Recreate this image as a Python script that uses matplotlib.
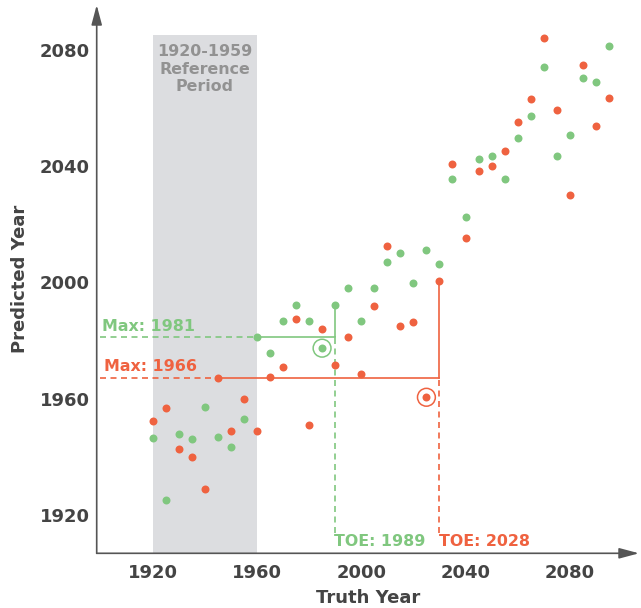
import matplotlib
matplotlib.use("Agg")
import matplotlib.pyplot as plt
import numpy as np

# ---------------- data ----------------
truth_years = list(range(1920, 2100, 5))
green_pred = [1946.5, 1925.1, 1947.9, 1946.2, 1957.3, 1946.8, 1943.5, 1952.9, 1981.1,
              1975.6, 1986.9, 1992.4, 1986.9, 1977.4, 1992.4, 1998.0, 1986.9, 1998.0,
              2007.0, 2010.3, 1999.7, 2011.3, 2006.4, 2035.7, 2022.4, 2042.5, 2043.7,
              2035.7, 2049.6, 2057.4, 2074.1, 2043.6, 2050.8, 2070.3, 2069.1, 2081.4]
red_pred = [1952.2, 1956.7, 1942.8, 1940.1, 1928.9, 1967.3, 1948.9, 1960.0, 1948.9,
            1967.6, 1971.0, 1987.3, 1951.1, 1984.0, 1971.7, 1981.1, 1968.5, 1991.8,
            2012.5, 1985.0, 1986.3, 1960.5, 2000.5, 2040.8, 2015.2, 2038.5, 2040.2,
            2045.3, 2055.2, 2063.1, 2084.1, 2059.2, 2030.2, 2074.7, 2054.0, 2063.6]

ref_period = (1920, 1960)
ref_label = "1920-1959\nReference\nPeriod"
green_max_year, green_max_val, green_toe_year = 1960, 1981.1, 1990
red_max_year, red_max_val, red_toe_year = 1945, 1967.3, 2030
green_ring_year = 1985
red_ring_year = 2025
green_max_label = "Max: 1981"
red_max_label = "Max: 1966"
green_toe_label = "TOE: 1989"
red_toe_label = "TOE: 2028"
xticks = [1920, 1960, 2000, 2040, 2080]
yticks = [1920, 1960, 2000, 2040, 2080]

GREEN = "#80c77f"
RED = "#ef6240"
AXC = "#555555"
TXT = "#444444"

# ---------------- figure ----------------
fig = plt.figure(figsize=(6.41, 6.08), dpi=100)
ax = fig.add_axes([96.7 / 641, (608 - 553.3) / 608, (639 - 96.7) / 641, (553.3 - 5) / 608])
x0, x1 = 1898.6, 2106.5
y0, y1 = 1906.8, 2095.5
ax.set_xlim(x0, x1)
ax.set_ylim(y0, y1)

for s in ax.spines.values():
    s.set_visible(False)

# arrows for axes
arrow_style = "-|>,head_length=1.2,head_width=0.32"
ax.annotate("", xy=(1, 0), xytext=(0, 0), xycoords="axes fraction",
            arrowprops=dict(arrowstyle=arrow_style, color=AXC, lw=1.2,
                            mutation_scale=10, shrinkA=0, shrinkB=0), annotation_clip=False)
ax.annotate("", xy=(0, 1), xytext=(0, 0), xycoords="axes fraction",
            arrowprops=dict(arrowstyle=arrow_style, color=AXC, lw=1.2,
                            mutation_scale=10, shrinkA=0, shrinkB=0), annotation_clip=False)

# reference period shading
ax.fill_between(list(ref_period), y0, 2085.2, color="#dcdde0", lw=0, zorder=0)
ax.text(np.mean(ref_period), 2073.4, ref_label, ha="center", va="center",
        fontsize=11.4, fontweight="bold", color="#929292", linespacing=1.2,
        multialignment="center", zorder=1)

dash = (0, (3.6, 2.7))
lw = 1.2
line_start = 1899.8
dash_bottom = 1913.7

# green lines
ax.plot([line_start, green_max_year], [green_max_val, green_max_val], color=GREEN, lw=lw, ls=dash, zorder=2)
ax.plot([green_max_year, green_toe_year], [green_max_val, green_max_val], color=GREEN, lw=lw, zorder=2)
gi = truth_years.index(green_toe_year)
ax.plot([green_toe_year, green_toe_year], [green_max_val, green_pred[gi]], color=GREEN, lw=lw, zorder=2)
ax.plot([green_toe_year, green_toe_year], [dash_bottom, green_max_val], color=GREEN, lw=lw, ls=dash, zorder=2)

# red lines
ax.plot([line_start, red_max_year], [red_max_val, red_max_val], color=RED, lw=lw, ls=dash, zorder=2)
ax.plot([red_max_year, red_toe_year], [red_max_val, red_max_val], color=RED, lw=lw, zorder=2)
ri = truth_years.index(red_toe_year)
ax.plot([red_toe_year, red_toe_year], [red_max_val, red_pred[ri]], color=RED, lw=lw, zorder=2)
ax.plot([red_toe_year, red_toe_year], [dash_bottom, red_max_val], color=RED, lw=lw, ls=dash, zorder=2)

# points
ax.scatter(truth_years, green_pred, s=33, color=GREEN, lw=0, zorder=3)
ax.scatter(truth_years, red_pred, s=33, color=RED, lw=0, zorder=3)

# rings
gr = truth_years.index(green_ring_year)
rr = truth_years.index(red_ring_year)
ax.scatter([green_ring_year], [green_pred[gr]], s=165, facecolor="none", edgecolor=GREEN, lw=1.1, zorder=3)
ax.scatter([red_ring_year], [red_pred[rr]], s=165, facecolor="none", edgecolor=RED, lw=1.1, zorder=3)

# labels
ax.text(1900.5, 1985.0, green_max_label, ha="left", va="center", fontsize=11.4,
        fontweight="bold", color=GREEN)
ax.text(1901.4, 1971.1, red_max_label, ha="left", va="center", fontsize=11.4,
        fontweight="bold", color=RED)
ax.text(green_toe_year - 0.4, 1911.0, green_toe_label, ha="left", va="center", fontsize=11.4,
        fontweight="bold", color=GREEN)
ax.text(red_toe_year, 1911.0, red_toe_label, ha="left", va="center", fontsize=11.4,
        fontweight="bold", color=RED)

# ticks
ax.set_xticks(xticks)
ax.set_yticks(yticks)
ax.set_xticklabels([str(t) for t in xticks])
ax.set_yticklabels([str(t) for t in yticks])
ax.tick_params(axis="both", length=0, labelsize=13, labelcolor=TXT)
ax.tick_params(axis="x", pad=8)
ax.tick_params(axis="y", pad=5)
for lab in ax.get_xticklabels() + ax.get_yticklabels():
    lab.set_fontweight("bold")

ax.set_xlabel("Truth Year", fontsize=13, fontweight="bold", color=TXT, labelpad=4.5)
ax.set_ylabel("Predicted Year", fontsize=13, fontweight="bold", color=TXT, labelpad=8)

fig.savefig("out.png", dpi=100)
